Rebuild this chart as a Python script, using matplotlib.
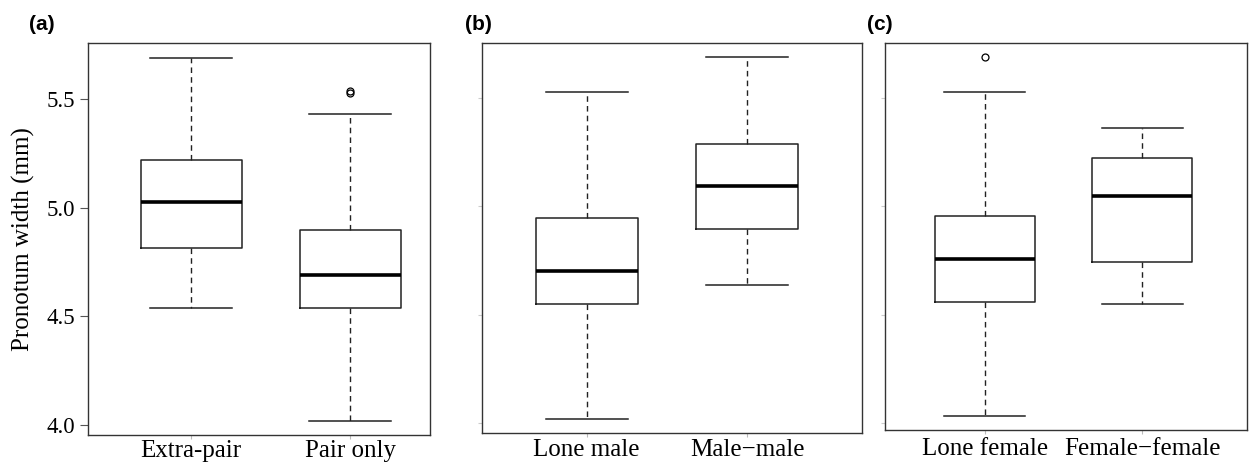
import numpy as np
import matplotlib
matplotlib.use("Agg")
import matplotlib.pyplot as plt

plt.rcParams['font.family'] = ['Liberation Serif', 'DejaVu Serif']

# values: whisker low, Q1, median, Q3, whisker high
groups_a = ['Extra-pair', 'Pair only']
low_a = [4.54, 4.02]
q1_a = [4.813, 4.540]
med_a = [5.027, 4.69]
q3_a = [5.219, 4.899]
high_a = [5.69, 5.43]
out_a = [[], [5.535, 5.525]]

groups_b = ['Lone male', 'Male\u2212male']
low_b = [4.02, 4.638]
q1_b = [4.548, 4.897]
med_b = [4.70, 5.094]
q3_b = [4.948, 5.288]
high_b = [5.528, 5.688]
out_b = [[], []]

groups_c = ['Lone female', 'Female\u2212female']
low_c = [4.031, 4.548]
q1_c = [4.557, 4.742]
med_c = [4.756, 5.049]
q3_c = [4.954, 5.223]
high_c = [5.529, 5.36]
out_c = [[5.688], []]

yticks = [4.0, 4.5, 5.0, 5.5]


def make_stats(names, lo, q1, med, q3, hi, fl):
    st = []
    for i in range(len(names)):
        st.append(dict(label=names[i], whislo=lo[i], q1=q1[i], med=med[i],
                       q3=q3[i], whishi=hi[i], fliers=fl[i]))
    return st


def draw(ax, stats, xlim, ylim, pad):
    ax.bxp(stats, positions=[1, 2], widths=0.635, capwidths=0.51,
           showfliers=True,
           boxprops=dict(color='#222222', linewidth=1.1),
           medianprops=dict(color='black', linewidth=2.6),
           whiskerprops=dict(color='#222222', linewidth=1.0, linestyle=(0, (4, 3))),
           capprops=dict(color='#222222', linewidth=1.1),
           flierprops=dict(marker='o', markersize=5, markerfacecolor='none',
                           markeredgecolor='black', markeredgewidth=0.9))
    ax.set_xlim(*xlim)
    ax.set_ylim(*ylim)
    for s in ax.spines.values():
        s.set_color('#333333')
        s.set_linewidth(1.0)
    ax.tick_params(axis='x', length=3, color='#bbbbbb', labelsize=18, pad=pad)
    ax.tick_params(axis='y', length=6, color='#555555', labelsize=16.5)


fig = plt.figure(figsize=(12.49, 4.62), dpi=100)
W, H = 1249.0, 462.0
ax_a = fig.add_axes([88 / W, (H - 435) / H, (430 - 88) / W, (435 - 43) / H])
ax_b = fig.add_axes([482 / W, (H - 433) / H, (862 - 482) / W, (433 - 43) / H])
ax_c = fig.add_axes([885 / W, (H - 430) / H, (1247 - 885) / W, (430 - 43) / H])

draw(ax_a, make_stats(groups_a, low_a, q1_a, med_a, q3_a, high_a, out_a),
     (0.352, 2.503), (3.954, 5.757), 0.5)
draw(ax_b, make_stats(groups_b, low_b, q1_b, med_b, q3_b, high_b, out_b),
     (0.347, 2.717), (3.954, 5.754), 1.5)
draw(ax_c, make_stats(groups_c, low_c, q1_c, med_c, q3_c, high_c, out_c),
     (0.368, 2.664), (3.968, 5.754), 3)

ax_a.set_yticks(yticks)
ax_a.set_yticklabels(['4.0', '4.5', '5.0', '5.5'])
ax_a.set_ylabel('Pronotum width (mm)', fontsize=18, labelpad=8)
for ax in (ax_b, ax_c):
    ax.set_yticks(yticks)
    ax.set_yticklabels([])
    ax.tick_params(axis='y', length=3, color='#cccccc')

for lbl, xc in [('(a)', 42), ('(b)', 478), ('(c)', 880)]:
    fig.text(xc / W, 1 - 24 / H, lbl, fontsize=15, fontweight='bold',
             family='Liberation Sans', ha='center', va='center')

fig.savefig('out.png', dpi=100)
